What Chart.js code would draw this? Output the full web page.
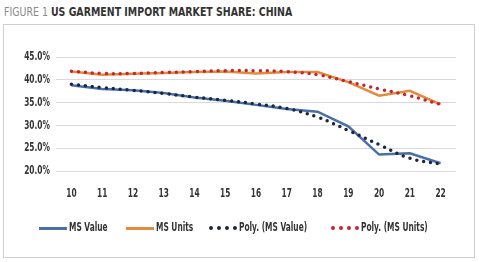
<!DOCTYPE html>
<html lang="en">
<head>
  <meta charset="UTF-8">
  <title>US Garment Import Market Share: China</title>
  <script src="https://cdn.jsdelivr.net/npm/chart.js"></script>
  <style>
    body { margin: 0; width: 479px; height: 262px; background: #fff; overflow: hidden;
           font-family: "DejaVu Sans", sans-serif; }
    #titulo { position: absolute; left: 4px; top: 4px; font-size: 13px; color: #333; white-space: nowrap;
              transform: scaleX(0.725); transform-origin: left top; }
    #titulo span { color: #8a8a8a; font-weight: normal; }
    #titulo b { font-weight: bold; }
    #caja { position: absolute; left: 3px; top: 24px; width: 470px; height: 232px; border: 1px solid #cfcfcf; }
    #grafico { position: absolute; left: 0; top: 0; }
    #leyenda { position: absolute; top: 220px; left: 0; width: 479px; height: 16px; font-size: 12px; font-weight: bold; color: #333; }
    .item { position: absolute; top: 0; white-space: nowrap; }
    .muestra { position: absolute; top: 7px; left: 0; width: 28px; }
    .texto { position: absolute; top: 0; left: 30px; transform: scaleX(0.62); transform-origin: left top; }
  </style>
</head>
<body>
<div id="titulo"><span>FIGURE 1</span> <b>US GARMENT IMPORT MARKET SHARE: CHINA</b></div>
<div id="caja"></div>
<canvas id="grafico" width="479" height="262"></canvas>
<div id="leyenda">
  <div class="item" style="left:39px"><span class="muestra" style="border-top:3px solid #4a6ea8"></span><span class="texto">MS Value</span></div>
  <div class="item" style="left:126px"><span class="muestra" style="border-top:3px solid #e48a3c"></span><span class="texto">MS Units</span></div>
  <div class="item" style="left:209px"><span class="muestra" style="top:6px;border-top:4px dotted #1c2640"></span><span class="texto">Poly. (MS Value)</span></div>
  <div class="item" style="left:331px"><span class="muestra" style="top:6px;border-top:4px dotted #c4262e"></span><span class="texto">Poly. (MS Units)</span></div>
</div>

<script>
  const anios = ['10', '11', '12', '13', '14', '15', '16', '17', '18', '19', '20', '21', '22'];
  const msValue = [38.8, 38.0, 37.7, 37.1, 36.1, 35.4, 34.5, 33.6, 33.0, 29.8, 23.6, 23.9, 21.7];
  const msUnits = [41.8, 41.1, 41.3, 41.5, 41.7, 41.8, 41.4, 41.7, 41.7, 39.5, 36.5, 37.6, 34.6];
  const polyValue = [39.0, 38.3, 37.7, 37.0, 36.2, 35.5, 34.7, 33.7, 31.8, 28.9, 25.8, 22.8, 21.5];
  const polyUnits = [41.9, 41.4, 41.4, 41.6, 41.8, 42.0, 42.0, 41.8, 41.1, 39.6, 38.0, 36.5, 34.6];
  const ticksY = [20, 25, 30, 35, 40, 45];

  const ESTRECHO = 0.62; // no hay fuente estrecha instalada: se comprime el texto a mano

  // dibuja las etiquetas de los ejes con la posición que da cada escala
  const etiquetas = {
    id: 'etiquetas',
    afterDraw(chart) {
      const c = chart.ctx;
      c.save();
      c.fillStyle = '#333';
      c.font = 'bold 12px "DejaVu Sans", sans-serif';
      const escribir = (txt, x, y, alin) => {
        c.save();
        c.translate(x, y);
        c.scale(ESTRECHO, 1);
        c.textAlign = alin;
        c.textBaseline = 'middle';
        c.fillText(txt, 0, 0);
        c.restore();
      };
      const ey = chart.scales.y;
      ticksY.forEach(v => escribir(v.toFixed(1) + '%', 50, ey.getPixelForValue(v), 'right'));
      const ex = chart.scales.x;
      anios.forEach((a, i) => escribir(a, ex.getPixelForValue(i), 194, 'center'));
      c.restore();
    }
  };

  const ctx = document.getElementById('grafico').getContext('2d');
  new Chart(ctx, {
    type: 'line',
    data: {
      labels: anios,
      datasets: [
        { label: 'MS Value', data: msValue, borderColor: '#4a6ea8', borderWidth: 2.5, pointRadius: 0, tension: 0, order: 3 },
        { label: 'MS Units', data: msUnits, borderColor: '#e48a3c', borderWidth: 2.5, pointRadius: 0, tension: 0, order: 4 },
        { label: 'Poly. (MS Value)', data: polyValue, borderColor: '#1c2640', borderWidth: 3.5, borderDash: [0, 7],
          borderCapStyle: 'round', pointRadius: 0, tension: 0.4, order: 1 },
        { label: 'Poly. (MS Units)', data: polyUnits, borderColor: '#c4262e', borderWidth: 3.5, borderDash: [0, 7],
          borderCapStyle: 'round', pointRadius: 0, tension: 0.4, order: 2 }
      ]
    },
    options: {
      responsive: false,
      animation: false,
      layout: { padding: { top: 57, bottom: 83, left: 56, right: 23 } },
      plugins: { legend: { display: false }, tooltip: { enabled: false } },
      scales: {
        x: {
          offset: true,
          grid: { display: false },
          border: { display: false },
          ticks: { display: false }
        },
        y: {
          min: 20, max: 45,
          afterBuildTicks: (eje) => { eje.ticks = ticksY.map(v => ({ value: v })); },
          grid: { color: '#d9d9d9', drawTicks: false },
          border: { display: false },
          ticks: { display: false }
        }
      }
    },
    plugins: [etiquetas]
  });
</script>
</body>
</html>
